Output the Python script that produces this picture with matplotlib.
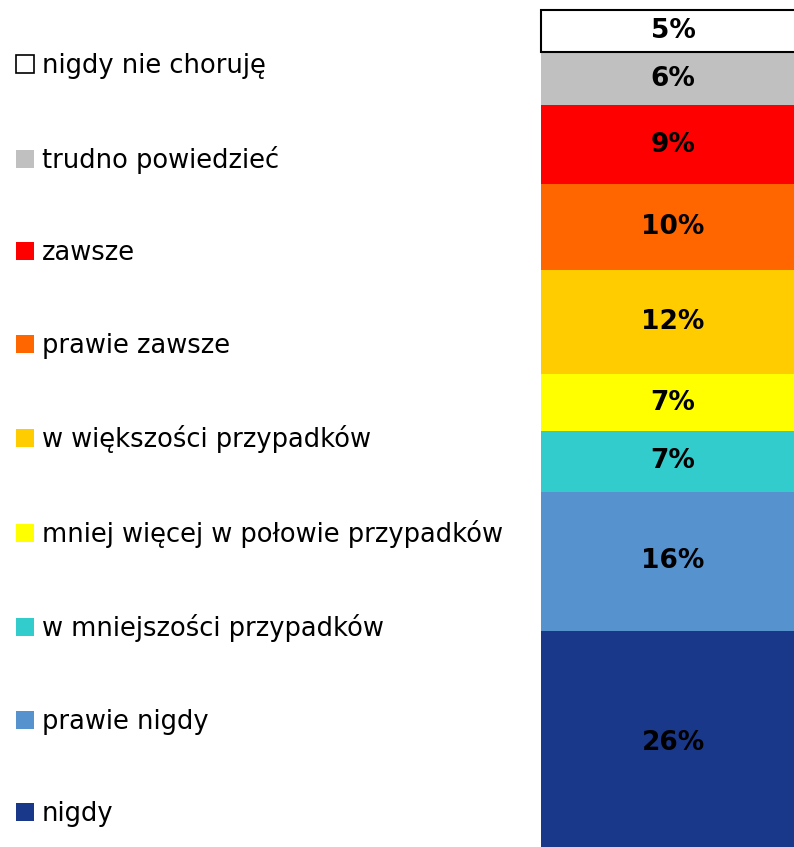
import matplotlib.pyplot as plt
from matplotlib.patches import Patch

# bottom to top
categories = ["nigdy", "prawie nigdy", "w mniejszości przypadków",
              "mniej więcej w połowie przypadków", "w większości przypadków",
              "prawie zawsze", "zawsze", "trudno powiedzieć", "nigdy nie choruję"]
values = [26.0, 16.2, 7.0, 6.7, 12.1, 10.0, 9.1, 6.2, 4.9]
labels = ["26%", "16%", "7%", "7%", "12%", "10%", "9%", "6%", "5%"]
colors = ["#1A3889", "#5592CE", "#33CCCC", "#FFFF00", "#FFCC00",
          "#FF6600", "#FF0000", "#C0C0C0", "#FFFFFF"]

W, H = 794, 847
fig = plt.figure(figsize=(W / 100, H / 100), dpi=100)

total = sum(values)
px_per = 8.6
top_px = 10
ax = fig.add_axes([541 / W, 1 - (top_px + total * px_per) / H, 264 / W, total * px_per / H])
ax.set_xlim(0, 1)
ax.set_ylim(0, total)
ax.axis("off")

bottom = 0
handles = []
for cat, v, lab, c in zip(categories, values, labels, colors):
    edge = "black" if c == "#FFFFFF" else c
    lw = 1.5 if c == "#FFFFFF" else 0
    ax.bar(0.5, v, width=1, bottom=bottom, color=c, edgecolor=edge, linewidth=lw, clip_on=False)
    ax.text(0.5, bottom + v / 2, lab, ha="center", va="center",
            fontsize=19, fontweight="bold", color="black")
    handles.append(Patch(facecolor=c, edgecolor="black" if c == "#FFFFFF" else c,
                         linewidth=1.2 if c == "#FFFFFF" else 0, label=cat))
    bottom += v

fig.legend(handles=handles[::-1], loc="upper left", bbox_to_anchor=(16 / W, 1 - 53 / H),
           frameon=False, fontsize=18.5, handlelength=0.7, handleheight=0.7,
           handletextpad=0.3, labelspacing=2.59, borderpad=0, borderaxespad=0)

fig.savefig("out.png", dpi=100)
